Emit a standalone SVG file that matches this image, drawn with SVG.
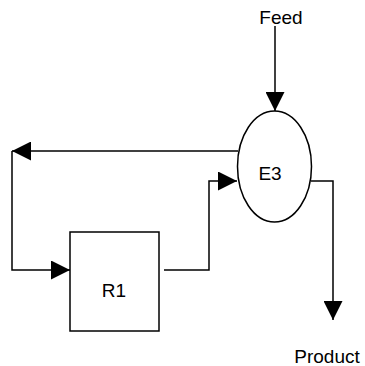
<svg xmlns="http://www.w3.org/2000/svg" width="365" height="366" viewBox="0 0 365 366">
<style>
.ln{fill:none;stroke:#000;stroke-width:1.5;marker-end:url(#ah)}
.shape{fill:#fff;stroke:#000;stroke-width:1.5}
.t{font-family:"Liberation Sans",Arial,sans-serif;font-size:19px;fill:#000;text-anchor:middle}
</style>
<defs>
<marker id="ah" markerUnits="userSpaceOnUse" markerWidth="19" markerHeight="19" refX="19" refY="9.5" orient="auto">
<path d="M0,0 L19,9.5 L0,19 z" fill="#000"/>
</marker>
</defs>
<g id="connectors">
<path class="ln" d="M275,26 L275,111"/>
<path class="ln" d="M238,151 L12,151"/>
<path class="ln" d="M12,151 L12,270 L70,270"/>
<path class="ln" d="M164,270 L209,270 L209,181 L237,181"/>
<path class="ln" d="M311,181 L333,181 L333,320"/>
</g>
<g id="E3">
<ellipse class="shape" cx="274.5" cy="166.5" rx="37" ry="55.5"/>
<text class="t" x="270" y="180">E3</text>
</g>
<g id="R1">
<rect class="shape" x="70" y="232" width="89" height="99"/>
<text class="t" x="114" y="297">R1</text>
</g>
<g id="Feed">
<text class="t" x="281" y="24">Feed</text>
</g>
<g id="Product">
<text class="t" x="327" y="363">Product</text>
</g>
</svg>
